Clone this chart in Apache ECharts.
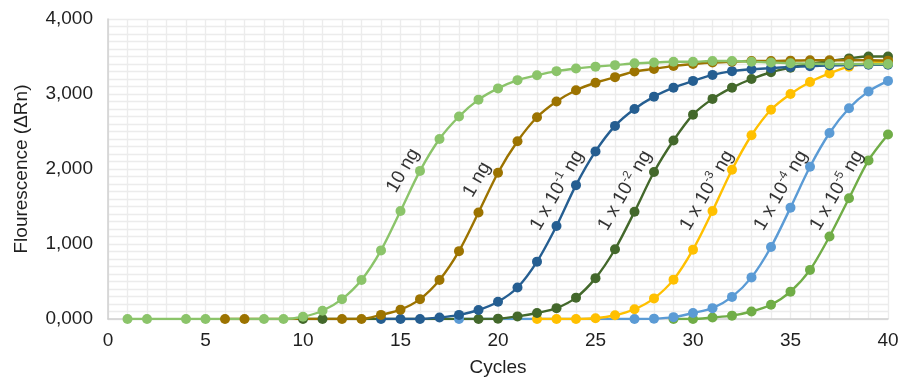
<!DOCTYPE html>
<html>
<head>
<meta charset="utf-8">
<script src="https://cdn.jsdelivr.net/npm/echarts@6/dist/echarts.min.js"></script>
<style>
  html, body { margin: 0; padding: 0; background: #ffffff; }
  #chart { width: 903px; height: 382px; }
</style>
</head>
<body>
<div id="chart"></div>
<script>
// qPCR amplification curves for a 10-fold template dilution series
const cycles = [1, 2, 3, 4, 5, 6, 7, 8, 9, 10, 11, 12, 13, 14, 15, 16, 17, 18, 19, 20,
                21, 22, 23, 24, 25, 26, 27, 28, 29, 30, 31, 32, 33, 34, 35, 36, 37, 38, 39, 40];

// ΔRn per cycle (null = no reading at that cycle)
const ng10 = [0, 0, null, 0, 0, null, null, 0, 0, 30, 110, 265, 520, 915, 1440, 1975, 2400, 2700, 2925, 3075,
              3185, 3250, 3305, 3340, 3365, 3385, 3410, 3420, 3430, 3430, 3440, 3440, 3430, 3420, 3410, 3405, 3400, 3400, 3400, 3400];
const ng1 = [null, null, null, null, null, 0, 0, null, null, null, null, 0, 0, 55, 125, 265, 520, 905, 1420, 1950,
             2370, 2690, 2900, 3050, 3150, 3225, 3300, 3335, 3375, 3400, 3420, 3430, 3440, 3440, 3445, 3450, 3450, 3450, 3450, 3445];
const ngE1 = [null, null, null, null, null, null, null, null, null, null, null, null, null, 0, 0, 0, 20, 55, 120, 230,
              420, 765, 1240, 1785, 2235, 2575, 2800, 2965, 3085, 3175, 3255, 3305, 3330, 3345, 3360, 3370, 3380, 3385, 3390, 3390];
const ngE2 = [null, null, null, null, null, null, null, null, null, 0, 0, null, null, null, null, null, null, null, 0, 5,
              35, 80, 145, 285, 545, 930, 1430, 1960, 2380, 2725, 2935, 3085, 3200, 3290, 3350, 3400, 3440, 3475, 3500, 3500];
const ngE3 = [null, null, null, null, null, null, null, null, null, null, null, null, null, null, null, null, null, null, null, null,
              null, 0, 0, 0, 10, 50, 130, 275, 525, 925, 1440, 1990, 2450, 2790, 3000, 3160, 3275, 3365, 3410, 3440];
const ngE4 = [null, null, null, null, null, null, null, null, null, null, null, null, null, null, null, null, null, 0, null, null,
              null, null, null, null, null, null, 0, 5, 25, 80, 145, 295, 555, 960, 1485, 2030, 2480, 2810, 3035, 3175];
const ngE5 = [null, null, null, null, null, null, null, null, null, null, null, null, null, null, null, null, null, null, null, null,
              null, null, null, null, null, null, null, null, 0, 0, 20, 45, 100, 190, 365, 655, 1100, 1610, 2115, 2460];

const yTicks = [0, 1000, 2000, 3000, 4000];
const xTicks = [0, 5, 10, 15, 20, 25, 30, 35, 40];

const curves = [
  { name: '1 x 10-5 ng', values: ngE5, color: '#70AD47' },
  { name: '1 x 10-4 ng', values: ngE4, color: '#5B9BD5' },
  { name: '1 x 10-3 ng', values: ngE3, color: '#FFC000' },
  { name: '1 x 10-2 ng', values: ngE2, color: '#43682B' },
  { name: '1 x 10-1 ng', values: ngE1, color: '#255E91' },
  { name: '1 ng', values: ng1, color: '#9C7300' },
  { name: '10 ng', values: ng10, color: '#8BC46A' }
];

// curve captions: [x, y] anchor in data units, rich-text caption
const captions = [
  { at: [15.13, 1980], text: '{t|10 ng}' },
  { at: [18.92, 1860], text: '{t|1 ng}' },
  { at: [23.03, 1714], text: '{t|1 x 10}{s|-1}{t| ng}' },
  { at: [26.51, 1714], text: '{t|1 x 10}{s|-2}{t| ng}' },
  { at: [30.72, 1714], text: '{t|1 x 10}{s|-3}{t| ng}' },
  { at: [34.51, 1714], text: '{t|1 x 10}{s|-4}{t| ng}' },
  { at: [37.38, 1714], text: '{t|1 x 10}{s|-5}{t| ng}' }
];

const FONT = 'Liberation Sans, Arial, sans-serif';
const TEXT = '#1f1f1f';
const GRID = '#ececec';

function fmtThousands(v) {
  const hi = Math.floor(v / 1000);
  const lo = String(v % 1000).padStart(3, '0');
  return hi + ',' + lo;
}

const lineSeries = curves.map(c => ({
  name: c.name,
  type: 'line',
  data: cycles.map((x, i) => [x, c.values[i] == null ? '-' : c.values[i]]),
  connectNulls: true,
  smooth: 0.3,
  symbol: 'circle',
  symbolSize: 10,
  showSymbol: true,
  lineStyle: { color: c.color, width: 2.4 },
  itemStyle: { color: c.color },
  emphasis: { disabled: true },
  silent: true
}));

const captionSeries = {
  type: 'scatter',
  silent: true,
  symbolSize: 0,
  z: 10,
  data: captions.map(c => ({
    value: c.at,
    label: { formatter: c.text }
  })),
  label: {
    show: true,
    position: 'inside',
    rotate: 60,
    align: 'center',
    verticalAlign: 'middle',
    rich: {
      t: { fontFamily: FONT, fontSize: 19, color: '#000', lineHeight: 23, verticalAlign: 'middle' },
      s: { fontFamily: FONT, fontSize: 12, color: '#000', lineHeight: 23, verticalAlign: 'top' }
    }
  }
};

const chart = echarts.init(document.getElementById('chart'), null, { renderer: 'canvas' });
chart.setOption({
  animation: false,
  backgroundColor: '#ffffff',
  grid: { left: 108, right: 15, top: 19, bottom: 62, containLabel: false },
  xAxis: {
    type: 'value',
    min: xTicks[0],
    max: xTicks[xTicks.length - 1],
    interval: 5,
    name: 'Cycles',
    nameLocation: 'middle',
    nameGap: 39,
    nameTextStyle: { fontFamily: FONT, fontSize: 19, color: TEXT },
    axisLine: { show: true, lineStyle: { color: '#d0d0d0', width: 1.5 } },
    axisTick: { show: false },
    axisLabel: { fontFamily: FONT, fontSize: 19, color: TEXT, margin: 12 },
    splitLine: { show: true, lineStyle: { color: GRID, width: 1.3 } },
    minorTick: { show: false, splitNumber: 5 },
    minorSplitLine: { show: true, lineStyle: { color: GRID, width: 1.3 } }
  },
  yAxis: {
    type: 'value',
    min: yTicks[0],
    max: yTicks[yTicks.length - 1],
    interval: 1000,
    name: 'Flourescence (ΔRn)',
    nameLocation: 'middle',
    nameGap: 77,
    nameTextStyle: { fontFamily: FONT, fontSize: 19, color: TEXT },
    axisLine: { show: true, lineStyle: { color: '#d0d0d0', width: 1.5 } },
    axisTick: { show: false },
    axisLabel: { fontFamily: FONT, fontSize: 19, color: TEXT, margin: 15, formatter: fmtThousands },
    splitLine: { show: true, lineStyle: { color: GRID, width: 1.3 } },
    minorTick: { show: false, splitNumber: 10 },
    minorSplitLine: { show: true, lineStyle: { color: GRID, width: 1.3 } }
  },
  series: [...lineSeries, captionSeries]
});
</script>
</body>
</html>
